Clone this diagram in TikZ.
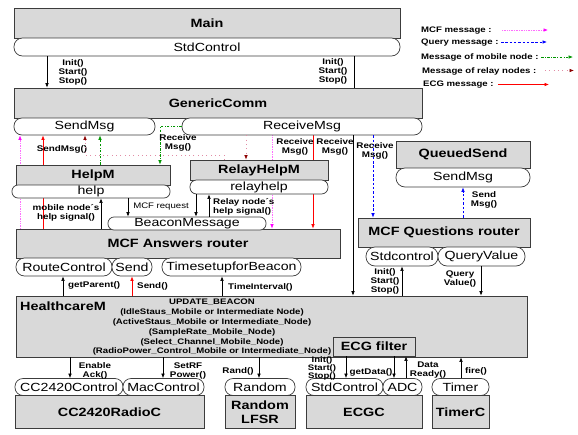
\documentclass[tikz,border=0pt]{standalone}
\usepackage{fontspec}
\setmainfont{Liberation Sans}[FakeStretch=1.2]
\usetikzlibrary{arrows.meta}
\pgfdeclarelayer{background}
\pgfsetlayers{background,main}
\definecolor{boxc}{RGB}{217,217,217}
\definecolor{bordc}{RGB}{60,60,60}
\definecolor{mobc}{RGB}{0,150,0}
\definecolor{relc}{RGB}{140,0,0}
\definecolor{relline}{RGB}{225,140,165}
\definecolor{mcfc}{RGB}{255,0,255}
\definecolor{mcfline}{RGB}{255,110,255}
\newcommand\bxf{\fontsize{12}{14}\selectfont\bfseries}
\newcommand\plf{\fontsize{11.8}{13}\selectfont}
\newcommand\lbf{\fontsize{8.2}{9}\selectfont\bfseries}
\newcommand\lgf{\fontsize{8}{9}\selectfont\bfseries}
\newcommand\hcf{\fontsize{8}{9.8}\selectfont\bfseries}
\tikzset{
  boxn/.style={draw=bordc, fill=boxc, line width=0.7pt, inner sep=0pt, font=\bxf},
  pilln/.style={draw=bordc, fill=white, line width=0.7pt, inner sep=0pt, rounded corners=#1, font=\plf},
  pilln/.default=8pt,
  lbl/.style={font=\lbf, inner sep=0pt, align=center},
  lgd/.style={font=\lgf, inner sep=0pt, anchor=west},
  tip/.style={-{Latex[length=4.5pt,width=3.6pt,color=#1,fill=#1]}},
  blk/.style={draw=black, line width=0.6pt, tip=black},
  plainl/.style={draw=black, line width=0.6pt},
  mcfl/.style={draw=mcfline, line width=0.7pt, densely dotted, tip=mcfc},
  qryl/.style={draw=blue, line width=0.7pt, dash pattern=on 2.5pt off 1.8pt, tip=blue},
  mobl/.style={draw=mobc, line width=0.7pt, dash pattern=on 2.5pt off 1.5pt on 0.7pt off 1.5pt, tip=mobc},
  rell/.style={draw=relline, line width=0.7pt, dash pattern=on 0.8pt off 3.5pt, tip=relc},
  ecgl/.style={draw=red, line width=0.7pt, tip=red},
}
\begin{document}
\begin{tikzpicture}[x=1pt,y=-1pt]
\useasboundingbox (0,0) rectangle (578,434);

% ---------- top ----------
\node[boxn, minimum width=386pt, minimum height=30pt] (main) at (207,23) {Main};
\node[pilln=8.5pt, minimum width=386pt, minimum height=18pt] (mainsc) at (207,47) {StdControl};
\node[boxn, minimum width=408pt, minimum height=30pt] (gc) at (218,103) {GenericComm};
\node[pilln=8pt, minimum width=141pt, minimum height=17pt] (gcsend) at (84.5,126.5) {SendMsg};
\node[pilln=8pt, minimum width=240pt, minimum height=17pt] (gcrecv) at (302,126.5) {ReceiveMsg};

% ---------- middle ----------
\node[boxn, minimum width=154pt, minimum height=20pt] (helpm) at (93,175) {HelpM};
\node[pilln=6pt, minimum width=158pt, minimum height=13pt] (help) at (91,191.5) {help};
\node[boxn, minimum width=138pt, minimum height=20pt] (relay) at (259,170) {RelayHelpM};
\node[pilln=6.5pt, minimum width=138pt, minimum height=14pt] (relayhelp) at (259,187) {relayhelp};
\node[boxn, minimum width=324pt, minimum height=29pt] (mcfa) at (178,243.5) {MCF Answers router};
\node[pilln=6pt, minimum width=158pt, minimum height=13pt] (beacon) at (187,223.5) {BeaconMessage};
\node[pilln=8.5pt, minimum width=96pt, minimum height=18pt] (routec) at (64,267) {RouteControl};
\node[pilln=8.5pt, minimum width=40pt, minimum height=18pt] (sendp) at (132,267) {Send};
\node[pilln=8.5pt, minimum width=139pt, minimum height=18pt] (times) at (231.5,267) {TimesetupforBeacon};

\node[boxn, minimum width=134pt, minimum height=27pt] (queued) at (463,154.5) {QueuedSend};
\node[pilln=9pt, minimum width=134pt, minimum height=19pt] (qsend) at (463,177.5) {SendMsg};
\node[boxn, minimum width=172pt, minimum height=29pt] (mcfq) at (444,232.5) {MCF Questions router};
\node[pilln=9pt, minimum width=72pt, minimum height=19pt] (stdc) at (402,256.5) {Stdcontrol};
\node[pilln=9pt, minimum width=87pt, minimum height=19pt] (qv) at (481.5,256.5) {QueryValue};

% ---------- HealthcareM ----------
\node[boxn, minimum width=511pt, minimum height=61pt] (hc) at (271.5,326.5) {};
\node[font=\bxf, anchor=west, inner sep=0pt] (hclbl) at (20,306) {HealthcareM};
\node[font=\hcf, align=center, inner sep=0pt] (upd) at (212,327.5) {UPDATE\_BEACON\\
(IdleStaus\_Mobile or Intermediate Node)\\
(ActiveStaus\_Mobile or Intermediate\_Node)\\
(SampleRate\_Mobile\_Node)\\
(Select\_Channel\_Mobile\_Node)\\
(RadioPower\_Control\_Mobile or Intermediate\_Node)};
\node[boxn, minimum width=82pt, minimum height=19pt] (ecgf) at (374,346.5) {ECG filter};

% ---------- bottom ----------
\node[pilln=8pt, minimum width=108pt, minimum height=17pt] (cc) at (69,387) {CC2420Control};
\node[pilln=8pt, minimum width=81pt, minimum height=17pt] (mac) at (163.5,387) {MacControl};
\node[pilln=8pt, minimum width=70pt, minimum height=17pt] (rnd) at (260,387) {Random};
\node[boxn, minimum width=189pt, minimum height=33pt] (radio) at (109.5,412) {CC2420RadioC};
\node[boxn, minimum width=70pt, minimum height=33pt, align=center, font=\fontsize{12}{14.5}\selectfont\bfseries] (lfsr) at (260,412) {Random\\LFSR};
\node[pilln=8pt, minimum width=77pt, minimum height=17pt] (ecgsc) at (344.5,387) {StdControl};
\node[pilln=8pt, minimum width=39pt, minimum height=17pt] (adc) at (402.5,387) {ADC};
\node[boxn, minimum width=116pt, minimum height=33pt] (ecgc) at (364,412) {ECGC};
\node[pilln=8pt, minimum width=57pt, minimum height=17pt] (timer) at (460.5,387) {Timer};
\node[boxn, minimum width=57pt, minimum height=33pt] (timerc) at (460.5,412) {TimerC};

% ---------- legend ----------
\node[lgd] (lg1) at (421,31) {MCF message :};
\node[lgd] (lg2) at (421,43) {Query message :};
\node[lgd] (lg3) at (421,57) {Message of mobile node :};
\node[lgd] (lg4) at (422,71) {Message of relay nodes :};
\node[lgd] (lg5) at (423,84.5) {ECG message :};
\coordinate (l1a) at (502,30);  \coordinate (l1b) at (548,30);
\coordinate (l2a) at (501,42);  \coordinate (l2b) at (547,42);
\coordinate (l3a) at (541,57);  \coordinate (l3b) at (573,57);
\coordinate (l4a) at (545,70.5);  \coordinate (l4b) at (574,70.5);
\coordinate (l5a) at (498,84.5);  \coordinate (l5b) at (549,84.5);
\draw[mcfl] (l1a) -- (l1b);
\draw[qryl] (l2a) -- (l2b);
\draw[mobl] (l3a) -- (l3b);
\draw[rell] (l4a) -- (l4b);
\draw[ecgl] (l5a) -- (l5b);

% ---------- connectors behind boxes ----------
\begin{pgfonlayer}{background}
\draw[mcfl] (mcfa.north -| 20,0) -- (gcsend.south -| 20,0);
\draw[ecgl] (mcfa.north -| 43,0) -- (gcsend.south -| 43,0);
\draw[mcfl] (gcrecv.south -| 272,0) -- (mcfa.north -| 272,0);
\draw[ecgl] (gcrecv.south -| 313,0) -- (mcfa.north -| 313,0);
\end{pgfonlayer}

% ---------- connectors ----------
\draw[blk] (mainsc.south -| 47,0) -- (gc.north -| 47,0);
\draw[plainl] (mainsc.south -| 354,0) -- (gc.north -| 354,0);
\node[lbl] at (73,72) {Init()\\Start()\\Stop()};
\node[lbl] at (333,71) {Init()\\Start()\\Stop()};

\node[lbl] at (62,149.5) {SendMsg()};
\coordinate (rc) at (85,155);
\draw[rell] (relay.north -| 224,0) |- (rc) -- (gcsend.south -| 85,0);
\draw[rell] (gcrecv.south -| 246,0) -- (relay.north -| 246,0);
\draw[mobl] (helpm.north -| 100,0) -- (gcsend.south -| 100,0);
\draw[mobl] (gcrecv.west) -| (helpm.north -| 160,0);
\node[lbl] at (178,143) {Receive\\Msg()};
\node[lbl] at (295,147) {Receive\\Msg()};
\node[lbl] at (335,147) {Receive\\Msg()};
\draw[blk] (gcrecv.south -| 353,0) -- (hc.north -| 353,0);
\draw[qryl] (gcrecv.south -| 373,0) -- (mcfq.north -| 373,0);
\node[lbl] at (375,150.5) {Receive\\Msg()};
\draw[qryl] (mcfq.north -| 463,0) -- (qsend.south -| 463,0);
\node[lbl] at (484,200) {Send\\Msg()};

\draw[blk] (help.south -| 128,0) -- (beacon.north -| 128,0);
\node[font=\fontsize{8}{9}\selectfont, inner sep=0pt] at (161,207) {MCF request};
\draw[blk] (mcfa.north -| 101,0) -- (help.south -| 101,0);
\node[lbl] at (66,213) {mobile node´s\\help signal()};
\draw[blk] (relayhelp.south -| 196,0) -- (beacon.north -| 196,0);
\draw[blk] (beacon.north -| 209,0) -- (relayhelp.south -| 209,0);
\node[lbl, anchor=west, align=left] at (213,206.5) {Relay node´s\\help signal()};

\draw[blk] (hc.north -| 63,0) -- (routec.south -| 63,0);
\node[lbl, anchor=west] at (68,285) {getParent()};
\draw[ecgl] (hc.north -| 132,0) -- (sendp.south -| 132,0);
\node[lbl, anchor=west] at (137,286) {Send()};
\draw[blk] (hc.north -| 222,0) -- (times.south -| 222,0);
\node[lbl, anchor=west] at (228,287) {TimeInterval()};
\draw[blk] (hc.north -| 402,0) -- (stdc.south -| 402,0);
\node[lbl] at (385,281) {Init()\\Start()\\Stop()};
\draw[blk] (qv.south -| 481,0) -- (hc.north -| 481,0);
\node[lbl] at (460,279) {Query\\Value()};

\draw[blk] (hc.south -| 70,0) -- (cc.north -| 70,0);
\node[lbl] at (95,371) {Enable\\Ack()};
\draw[blk] (hc.south -| 163,0) -- (mac.north -| 163,0);
\node[lbl] at (188,371) {SetRF\\Power()};
\draw[blk] (hc.south -| 259,0) -- (rnd.north -| 259,0);
\node[lbl] at (238,371) {Rand()};
\draw[blk] (ecgf.south -| 346,0) -- (ecgsc.north -| 346,0);
\node[lbl, font=\fontsize{8}{8}\selectfont\bfseries] at (322,368) {Init()\\Start()\\Stop()};
\draw[blk] (ecgf.south -| 394,0) -- (adc.north -| 394,0);
\node[lbl] at (371,372) {getData()};
\draw[blk] (adc.north -| 406,0) -- (ecgf.south -| 406,0);
\node[lbl] at (428,370) {Data\\Ready()};
\draw[blk] (timer.north -| 461,0) -- (hc.south -| 461,0);
\node[lbl] at (476,371) {fire()};
\end{tikzpicture}
\end{document}
